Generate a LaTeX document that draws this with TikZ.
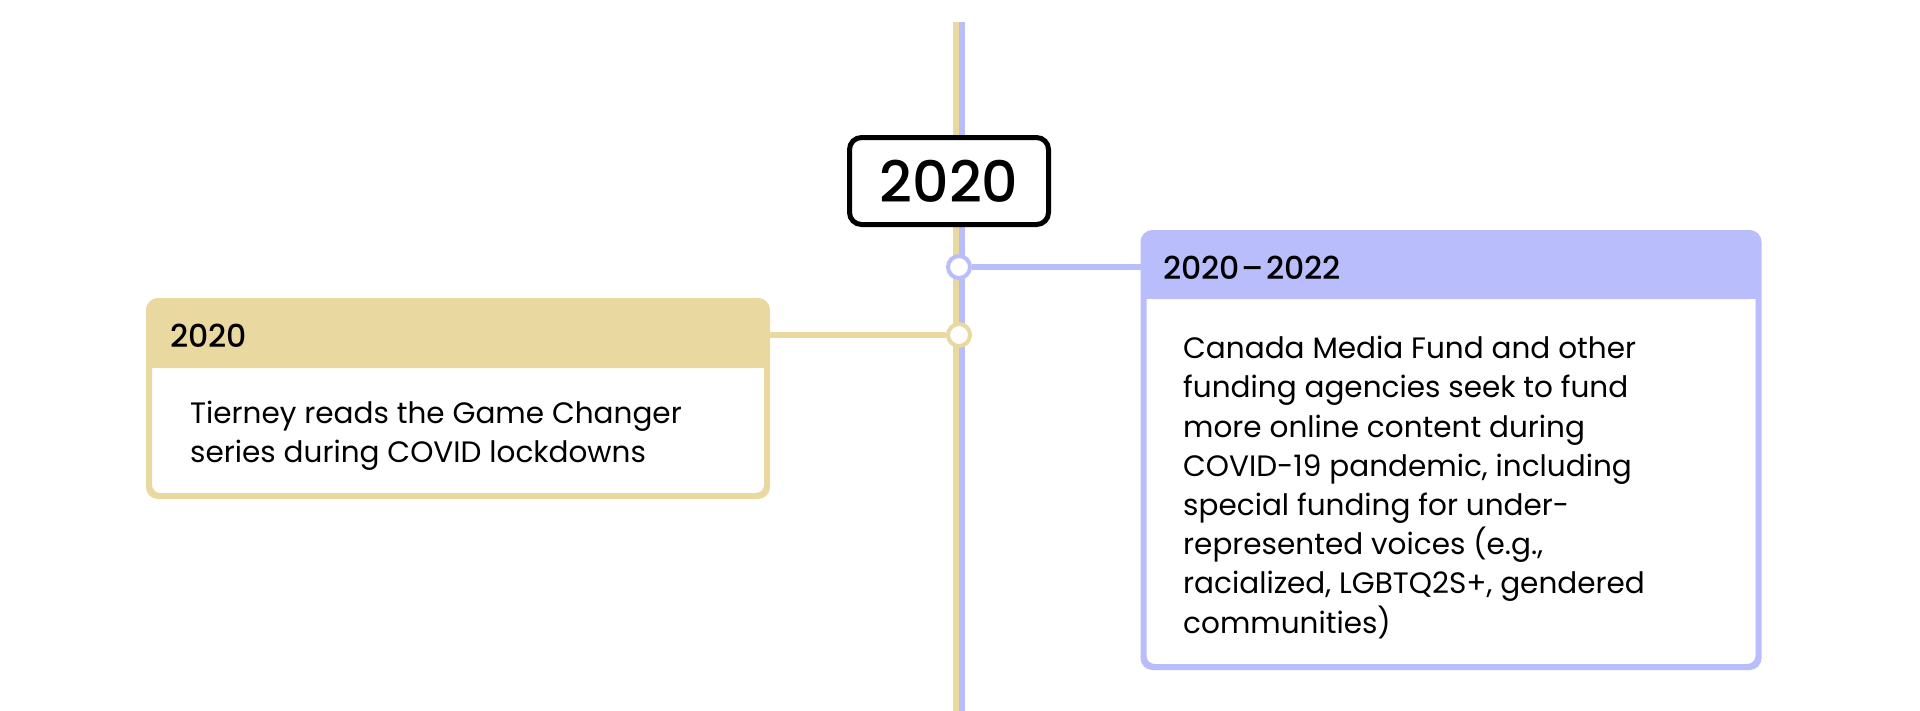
\documentclass[tikz,border=0pt]{standalone}
\usepackage{fontspec}
\setmainfont{Poppins}
\newfontfamily\medfont{Poppins Medium}
\definecolor{gold}{HTML}{E9D8A0}
\definecolor{lav}{HTML}{B9BDFB}
\begin{document}
\begin{tikzpicture}[x=1pt,y=-1pt,
  card/.style={rectangle, rounded corners=10pt, line width=4pt, fill=white, inner sep=0pt},
  headtext/.style={anchor=west, inner sep=0pt, font=\medfont\fontsize{31.5}{36}\selectfont},
  bodytext/.style={anchor=north west, align=left, inner sep=0pt, font=\fontsize{29.5}{39.2}\selectfont},
  dot/.style={circle, line width=4pt, fill=white, minimum size=22pt, inner sep=0pt},
  yearbox/.style={rectangle, draw=black, line width=5pt, rounded corners=12pt, fill=white, minimum width=199pt, minimum height=87pt, inner sep=0pt, font=\medfont\fontsize{57}{60}\selectfont}
]
\useasboundingbox (0,0) rectangle (1920,710);
\fill[white] (0,0) rectangle (1920,710);
% timeline spines
\coordinate (gtop) at (956,22);
\coordinate (gbot) at (956,712);
\coordinate (btop) at (962,22);
\coordinate (bbot) at (962,712);
\draw[gold, line width=6pt] (gtop) -- (gbot);
\draw[lav, line width=6pt] (btop) -- (bbot);
% cards
\node[card, draw=gold, minimum width=616pt, minimum height=193pt] (lb) at (458,398.5) {};
\node[card, draw=lav, minimum width=613pt, minimum height=432pt] (rb) at (1451,450) {};
\fill[gold, rounded corners=10pt] (lb.north west) rectangle ([yshift=-68pt]lb.north east);
\fill[gold] ([yshift=-30pt]lb.north west) rectangle ([yshift=-68pt]lb.north east);
\draw[gold, line width=4pt, rounded corners=10pt] (lb.north west) rectangle (lb.south east);
\fill[lav, rounded corners=10pt] (rb.north west) rectangle ([yshift=-67pt]rb.north east);
\fill[lav] ([yshift=-30pt]rb.north west) rectangle ([yshift=-67pt]rb.north east);
\draw[lav, line width=4pt, rounded corners=10pt] (rb.north west) rectangle (rb.south east);
% dots
\node[dot, draw=lav] (bc) at (959,267) {};
\node[dot, draw=gold] (gc) at (959,335) {};
\draw[lav, line width=6pt] (bc.east) -- (bc -| rb.west);
\draw[gold, line width=6pt] (gc -| lb.east) -- (gc.west);
% year label
\node[yearbox] (yr) at (949,181) {2020};
% texts
\node[headtext] (lh) at (170,336) {2020};
\node[headtext] (rh) at (1163,268) {2020\kern2pt–\kern2pt2022};
\node[bodytext] (lt) at (190,401) {Tierney reads the Game Changer\\series during COVID lockdowns};
\node[bodytext] (rt) at (1183,336) {Canada Media Fund and other\\funding agencies seek to fund\\more online content during\\COVID-19 pandemic, including\\special funding for under-\\represented voices (e.g.,\\racialized, LGBTQ2S+, gendered\\communities)};
\end{tikzpicture}
\end{document}
